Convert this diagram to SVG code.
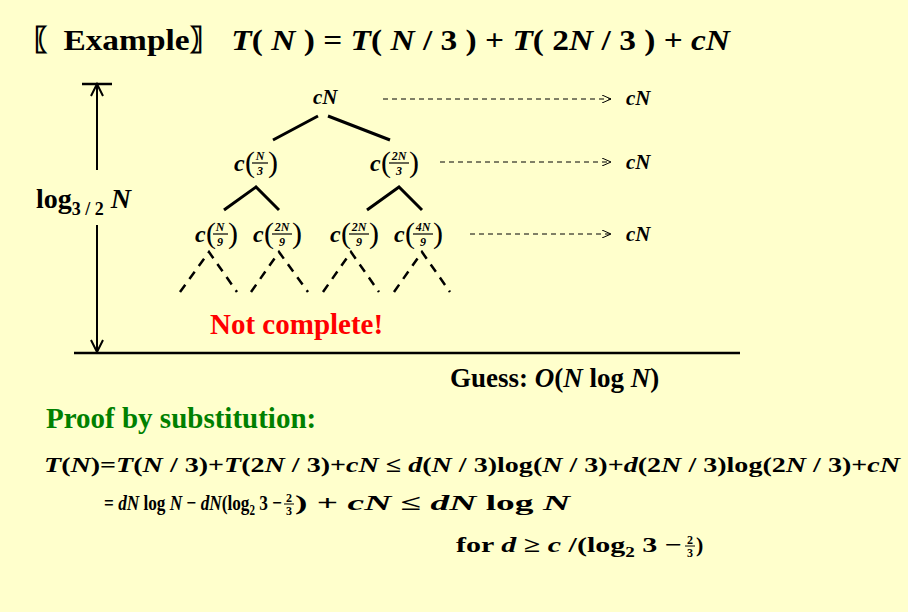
<svg xmlns="http://www.w3.org/2000/svg" width="908" height="612" viewBox="0 0 908 612">
<defs>
<marker id="ah" markerWidth="10" markerHeight="8" refX="9" refY="4" orient="auto" markerUnits="userSpaceOnUse"><path d="M0,0 L9,4 L0,8" fill="none" stroke="#000" stroke-width="1"/></marker>
</defs>
<style>
text{font-family:"Liberation Serif",serif;font-weight:bold;fill:#000}
.i{font-style:italic}
.n{font-size:21px;font-style:italic}
.c{font-size:24px;font-style:italic}
.p{font-size:30px;font-weight:normal}
.f{font-size:12px;font-style:italic}
.m{font-size:22px}
.t{stroke:#000;stroke-width:3;fill:none}
.d{stroke:#000;stroke-width:2.5;fill:none;stroke-dasharray:9,7}
.a{stroke:#000;stroke-width:1;fill:none;stroke-dasharray:5,4}
</style>
<rect width="908" height="612" fill="#FFFFCC"/>
<text x="30" y="50" font-size="30" textLength="700" lengthAdjust="spacingAndGlyphs">〖Example〗 <tspan class="i">T</tspan>( <tspan class="i">N</tspan> ) = <tspan class="i">T</tspan>( <tspan class="i">N</tspan> / 3 ) + <tspan class="i">T</tspan>( 2<tspan class="i">N</tspan> / 3 ) + <tspan class="i">cN</tspan></text>
<g id="height">
<line x1="82" y1="84" x2="112" y2="84" stroke="#000" stroke-width="2.5"/>
<line x1="97" y1="84" x2="97" y2="170" stroke="#000" stroke-width="2"/>
<line x1="97" y1="225" x2="97" y2="350" stroke="#000" stroke-width="2"/>
<path d="M91,96 L97,84 L103,96" fill="none" stroke="#000" stroke-width="2"/>
<path d="M91,340 L97,352 L103,340" fill="none" stroke="#000" stroke-width="2"/>
<text x="36" y="208" font-size="28">log<tspan font-size="18" dy="7">3 / 2</tspan><tspan class="i" dy="-7"> N</tspan></text>
</g>
<line x1="74" y1="353" x2="740" y2="353" stroke="#000" stroke-width="2.5"/>
<g id="n0"><text x="313" y="104" class="n">cN</text></g>
<g id="n1"><text x="234" y="171" class="c">c</text><text x="245" y="172" class="p">(</text><text x="260" y="160" class="f" text-anchor="middle">N</text><line x1="252" y1="163" x2="268" y2="163" stroke="#000" stroke-width="1.2"/><text x="260" y="175" class="f" font-style="normal" text-anchor="middle">3</text><text x="268" y="172" class="p">)</text></g>
<g id="n2"><text x="370" y="171" class="c">c</text><text x="381" y="172" class="p">(</text><text x="399" y="160" class="f" text-anchor="middle">2N</text><line x1="389" y1="163" x2="409" y2="163" stroke="#000" stroke-width="1.2"/><text x="399" y="175" class="f" font-style="normal" text-anchor="middle">3</text><text x="409" y="172" class="p">)</text></g>
<g id="n3"><text x="195" y="242" class="c">c</text><text x="206" y="243" class="p">(</text><text x="220" y="231" class="f" text-anchor="middle">N</text><line x1="213" y1="234" x2="228" y2="234" stroke="#000" stroke-width="1.2"/><text x="220" y="246" class="f" font-style="normal" text-anchor="middle">9</text><text x="228" y="243" class="p">)</text></g>
<g id="n4"><text x="253" y="242" class="c">c</text><text x="264" y="243" class="p">(</text><text x="282" y="231" class="f" text-anchor="middle">2N</text><line x1="272" y1="234" x2="292" y2="234" stroke="#000" stroke-width="1.2"/><text x="282" y="246" class="f" font-style="normal" text-anchor="middle">9</text><text x="292" y="243" class="p">)</text></g>
<g id="n5"><text x="330" y="242" class="c">c</text><text x="341" y="243" class="p">(</text><text x="359" y="231" class="f" text-anchor="middle">2N</text><line x1="349" y1="234" x2="369" y2="234" stroke="#000" stroke-width="1.2"/><text x="359" y="246" class="f" font-style="normal" text-anchor="middle">9</text><text x="369" y="243" class="p">)</text></g>
<g id="n6"><text x="394" y="242" class="c">c</text><text x="405" y="243" class="p">(</text><text x="423" y="231" class="f" text-anchor="middle">4N</text><line x1="413" y1="234" x2="433" y2="234" stroke="#000" stroke-width="1.2"/><text x="423" y="246" class="f" font-style="normal" text-anchor="middle">9</text><text x="433" y="243" class="p">)</text></g>
<g id="connectors">
<path class="t" d="M318,116 L273,140 M328,116 L390,140 M224,210 L256,187 L279,210 M367,210 L399,187 L422,210"/>
<path class="d" d="M180,292 L209,252 L237,292 M251,292 L279,252 L308,292 M323,292 L351,252 L379,292 M394,292 L422,252 L450,292"/>
<line class="a" x1="383" y1="99" x2="611" y2="99" marker-end="url(#ah)"/>
<line class="a" x1="440" y1="162" x2="611" y2="162" marker-end="url(#ah)"/>
<line class="a" x1="470" y1="234" x2="611" y2="234" marker-end="url(#ah)"/>
</g>
<text x="626" y="105" class="n">cN</text>
<text x="626" y="169" class="n">cN</text>
<text x="626" y="241" class="n">cN</text>
<text x="210" y="334" font-size="29" style="fill:#FF0000">Not complete!</text>
<text x="450" y="387" font-size="27">Guess: <tspan class="i">O</tspan>(<tspan class="i">N</tspan> log <tspan class="i">N</tspan>)</text>
<text x="46" y="428" font-size="29" style="fill:#008000">Proof by substitution:</text>
<text x="44" y="472" class="m" textLength="856" lengthAdjust="spacingAndGlyphs"><tspan class="i">T</tspan>(<tspan class="i">N</tspan>)=<tspan class="i">T</tspan>(<tspan class="i">N</tspan> / 3)+<tspan class="i">T</tspan>(2<tspan class="i">N</tspan> / 3)+<tspan class="i">cN</tspan> ≤ <tspan class="i">d</tspan>(<tspan class="i">N</tspan> / 3)log(<tspan class="i">N</tspan> / 3)+<tspan class="i">d</tspan>(2<tspan class="i">N</tspan> / 3)log(2<tspan class="i">N</tspan> / 3)+<tspan class="i">cN</tspan></text>
<text x="104" y="510" class="m" textLength="178" lengthAdjust="spacingAndGlyphs">= <tspan class="i">dN</tspan> log <tspan class="i">N</tspan> − <tspan class="i">dN</tspan>(log<tspan font-size="14" dy="5">2</tspan><tspan dy="-5"> 3 −</tspan></text>
<text x="289" y="502" font-size="12" text-anchor="middle">2</text><line x1="284" y1="504" x2="294" y2="504" stroke="#000"/><text x="289" y="515" font-size="12" text-anchor="middle">3</text>
<text x="295" y="510" class="m" textLength="275" lengthAdjust="spacingAndGlyphs">) + <tspan class="i">cN</tspan> ≤ <tspan class="i">dN</tspan> log <tspan class="i">N</tspan></text>
<text x="456" y="552" class="m" textLength="226" lengthAdjust="spacingAndGlyphs">for <tspan class="i">d</tspan> ≥ <tspan class="i">c</tspan> /(log<tspan font-size="14" dy="5">2</tspan><tspan dy="-5"> 3 −</tspan></text>
<text x="690" y="544" font-size="12" text-anchor="middle">2</text><line x1="685" y1="546" x2="695" y2="546" stroke="#000"/><text x="690" y="557" font-size="12" text-anchor="middle">3</text>
<text x="696" y="552" class="m">)</text>
</svg>
